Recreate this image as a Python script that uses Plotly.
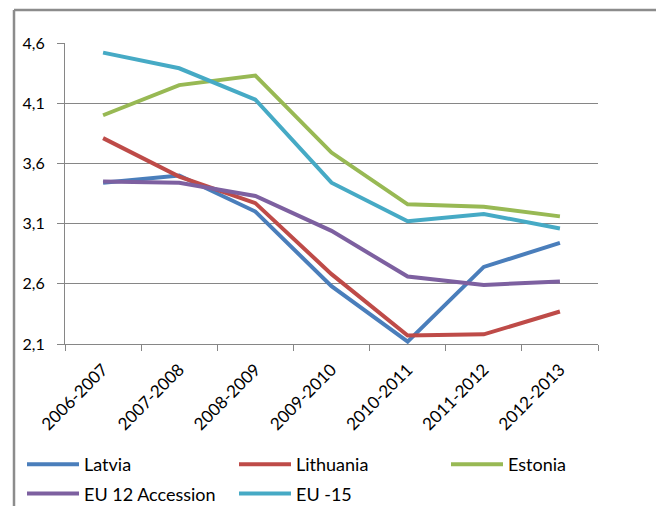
import plotly.graph_objects as go

categories = ["2006-2007", "2007-2008", "2008-2009", "2009-2010", "2010-2011", "2011-2012", "2012-2013"]
latvia = [3.44, 3.50, 3.20, 2.58, 2.12, 2.74, 2.94]
lithuania = [3.81, 3.49, 3.27, 2.68, 2.17, 2.18, 2.37]
estonia = [4.00, 4.25, 4.33, 3.69, 3.26, 3.24, 3.16]
eu12 = [3.45, 3.44, 3.33, 3.04, 2.66, 2.59, 2.62]
eu15 = [4.52, 4.39, 4.13, 3.44, 3.12, 3.18, 3.06]
y_ticks = [2.1, 2.6, 3.1, 3.6, 4.1, 4.6]

series = [
    ("Latvia", latvia, "#4A7EBB", "legend"),
    ("Lithuania", lithuania, "#BE4B48", "legend2"),
    ("Estonia", estonia, "#98B954", "legend3"),
    ("EU 12 Accession", eu12, "#7D60A0", "legend"),
    ("EU -15", eu15, "#46AAC5", "legend2"),
]

fig = go.Figure()
for name, vals, color, leg in series:
    fig.add_trace(go.Scatter(x=categories, y=vals, name=name, mode="lines",
                             legend=leg, legendgroup=name,
                             line=dict(color=color, width=4)))

# page has an 8px body margin; design in page pixels and convert
OFF = 8
W, H = 664 - OFF, 506 - OFF
PL, PR, PT, PB = 65, 598, 43, 344  # plot area in page pixels
L, R, T, B = PL - OFF, W - (PR - OFF), PT - OFF, H - (PB - OFF)
pw, ph = W - L - R, H - T - B


def px_x(x):
    return (x - PL) / pw


def px_y(y):
    return (PB - y) / ph


def legend_at(page_x):
    return dict(orientation="v", xref="container", yref="container",
                x=(page_x - OFF) / W, y=1 - (446 - OFF) / H,
                xanchor="left", yanchor="top", font=dict(size=18),
                bgcolor="rgba(0,0,0,0)", tracegroupgap=3, itemwidth=52)


border = dict(color="#8C8C8C", width=2.5)
fig.update_layout(
    width=W, height=H,
    margin=dict(l=L, r=R, t=T, b=B, autoexpand=False),
    paper_bgcolor="white", plot_bgcolor="white",
    separators=", ",
    font=dict(family="Lato, Open Sans, sans-serif", size=15, color="#000"),
    showlegend=True,
    legend=legend_at(22),
    legend2=legend_at(234),
    legend3=legend_at(446),
    xaxis=dict(type="category", tickangle=-45, tickson="boundaries", ticks="outside",
               ticklen=6, tickcolor="#868686", showline=True, linecolor="#868686",
               linewidth=1, showgrid=False, tickfont=dict(size=17), range=[-0.5, 6.5],
               ticklabelstandoff=8, automargin=False),
    yaxis=dict(range=[2.1, 4.6], tickvals=y_ticks, tickformat=".1f", ticks="outside",
               ticklen=7, tickcolor="#868686", showline=True, linecolor="#868686",
               showgrid=True, gridcolor="#868686", gridwidth=1, zeroline=False,
               tickfont=dict(size=16), ticklabelstandoff=9, automargin=False),
    shapes=[
        dict(type="line", xref="paper", yref="paper", x0=px_x(14), x1=px_x(14),
             y0=px_y(530), y1=px_y(10), line=border),
        dict(type="line", xref="paper", yref="paper", x0=px_x(659), x1=px_x(659),
             y0=px_y(530), y1=px_y(10), line=border),
        dict(type="line", xref="paper", yref="paper", x0=px_x(14), x1=px_x(659),
             y0=px_y(10), y1=px_y(10), line=border),
    ],
)

fig.write_html("out.html")
